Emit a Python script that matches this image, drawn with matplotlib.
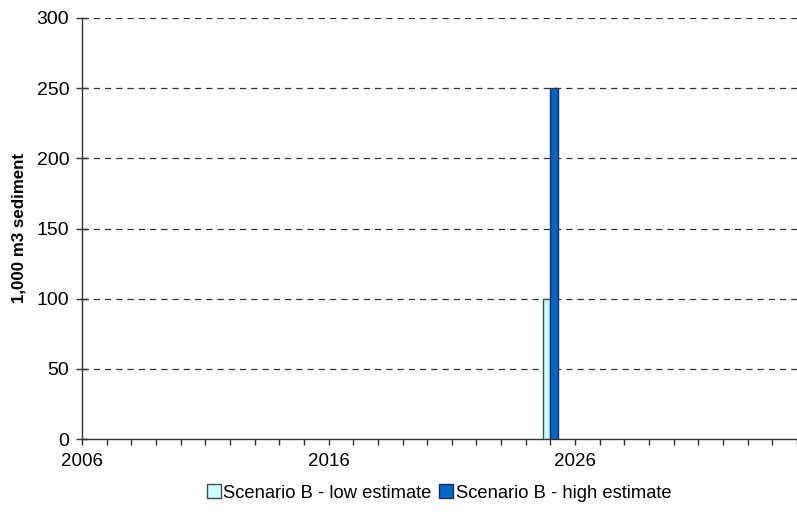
import matplotlib
matplotlib.use("Agg")
import matplotlib.pyplot as plt
import numpy as np

plt.rcParams['font.family'] = ['Liberation Sans', 'DejaVu Sans']

years = list(range(2006, 2036))
low_estimate = [0] * 19 + [100] + [0] * 10
high_estimate = [0] * 19 + [250] + [0] * 10
year_labels = [2006, 2016, 2026]
y_ticks = [0, 50, 100, 150, 200, 250, 300]

fig = plt.figure(figsize=(7.97, 5.12), dpi=100)
ax = fig.add_axes([82 / 797, 1 - 439 / 512, (797 - 82) / 797, (439 - 18) / 512])

x = np.array(years, dtype=float)
w = 0.3
low = np.array(low_estimate, dtype=float)
high = np.array(high_estimate, dtype=float)
mask_l = low > 0
mask_h = high > 0
ax.bar(x[mask_l] - w / 2, low[mask_l], width=w, color='#CCFFFF', edgecolor='#3F4F4F',
       linewidth=1.0, zorder=3)
ax.bar(x[mask_h] + w / 2, high[mask_h], width=w, color='#0066CC', edgecolor='#1F2F4F',
       linewidth=1.0, zorder=3)

ax.set_xlim(years[0], years[0] + 715 / 24.8)
ax.set_ylim(0, 300)
ax.set_yticks(y_ticks)
ax.set_xticks(years, minor=True)
ax.set_xticks(year_labels)
ax.set_xticklabels([str(y) for y in year_labels])

for v in y_ticks[1:]:
    ax.axhline(v, color='#333333', linestyle=(0, (5, 4)), linewidth=0.9, zorder=1)

for s in ['top', 'right']:
    ax.spines[s].set_visible(False)
for s in ['left', 'bottom']:
    ax.spines[s].set_color('#333333')
    ax.spines[s].set_linewidth(1.0)

ax.tick_params(axis='y', direction='inout', length=8.5, width=1, color='#333333',
               labelsize=14, pad=5)
ax.tick_params(axis='x', which='both', direction='out', length=4.3, width=1,
               color='#333333', labelsize=13.5, pad=6)

fig.text(19 / 797, 1 - 228 / 512, '1,000 m3 sediment', rotation=90, ha='center',
         va='center', fontsize=12.2, fontweight='bold')

handles = [plt.Rectangle((0, 0), 1, 1, facecolor='#CCFFFF', edgecolor='#3F4F4F', linewidth=1),
           plt.Rectangle((0, 0), 1, 1, facecolor='#0066CC', edgecolor='#1F2F4F', linewidth=1)]
fig.legend(handles, ['Scenario B - low estimate', 'Scenario B - high estimate'],
           loc='center', bbox_to_anchor=(439 / 797, 1 - 493 / 512), ncol=2,
           frameon=False, fontsize=13.2, handlelength=0.75, handleheight=0.75,
           handletextpad=0.15, columnspacing=0.4)

fig.savefig('out.png', dpi=100)
